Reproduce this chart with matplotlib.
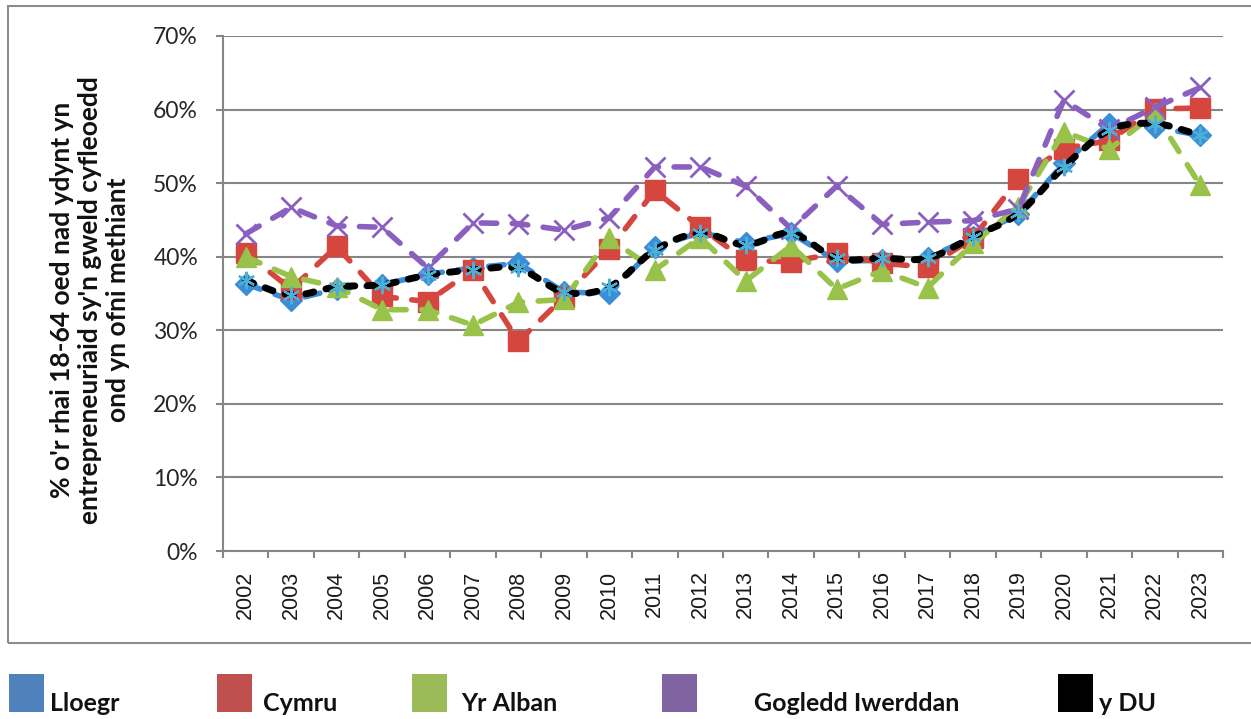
import matplotlib
matplotlib.use("Agg")
import matplotlib.pyplot as plt
import numpy as np
from matplotlib.patches import PathPatch, Rectangle
from matplotlib.path import Path

# values (% of 18-64 year olds)
years = [str(y) for y in range(2002, 2024)]
lloegr = [36.3, 34.1, 35.6, 36.2, 37.6, 38.5, 39.1, 35.2, 35.0, 41.3, 43.3,
          41.9, 43.2, 39.4, 39.5, 39.8, 42.7, 45.8, 52.7, 58.1, 57.6, 56.5]
cymru = [40.5, 35.6, 41.4, 34.6, 33.9, 38.2, 28.5, 34.5, 41.0, 49.0, 44.0,
         39.5, 39.3, 40.5, 39.1, 38.6, 42.5, 50.6, 54.7, 55.8, 60.1, 60.2]
yr_alban = [40.0, 37.3, 35.9, 32.8, 32.8, 30.7, 33.8, 34.2, 42.5, 38.2, 42.6,
            36.7, 41.5, 35.6, 38.1, 35.8, 41.8, 46.8, 57.0, 54.6, 59.5, 49.7]
gogledd_iwerddan = [43.1, 46.7, 44.2, 44.0, 38.5, 44.6, 44.5, 43.6, 45.3, 52.2, 52.2,
                    49.6, 43.8, 49.6, 44.4, 44.7, 44.9, 46.5, 61.3, 57.3, 60.3, 63.0]
y_du = [36.8, 34.8, 35.9, 36.2, 37.5, 38.2, 38.4, 35.2, 35.9, 40.9, 43.2,
        41.6, 43.2, 39.8, 39.8, 39.8, 42.7, 45.9, 52.2, 57.2, 58.1, 56.5]

legend_labels = ["Lloegr", "Cymru", "Yr Alban", "Gogledd Iwerddan", "y DU"]
ytick_values = [0, 10, 20, 30, 40, 50, 60, 70]
ylabel_lines = ["% o'r rhai 18-64 oed nad ydynt yn",
                "entrepreneuriaid sy'n gweld cyfleoedd",
                "ond yn ofni methiant"]

BLUE = "#3b8dd8"
RED = "#d5473e"
GREEN = "#98c24a"
PURPLE = "#8a5fbf"
CYAN = "#4ab0d8"
GRID = "#868686"
LEGEND_COLORS = ["#4f81bd", "#c0504d", "#9bbb59", "#8064a2", "#000000"]

W, H = 1251, 719


def smooth_path(xs, ys):
    # Excel-style smoothed line: cubic bezier through every point
    pts = np.column_stack([xs, ys]).astype(float)
    n = len(pts)
    verts = [pts[0]]
    codes = [Path.MOVETO]
    for i in range(n - 1):
        p0 = pts[max(i - 1, 0)]
        p1 = pts[i]
        p2 = pts[i + 1]
        p3 = pts[min(i + 2, n - 1)]
        verts += [p1 + (p2 - p0) / 6.0, p2 - (p3 - p1) / 6.0, p2]
        codes += [Path.CURVE4] * 3
    return Path(verts, codes)


fig = plt.figure(figsize=(W / 100, H / 100), dpi=100)
fig.patch.set_facecolor("white")

ax = fig.add_axes([223 / W, 1 - 551 / H, 1000 / W, 515 / H])
x = np.arange(len(years))

dash_kw = dict(lw=4.0, dash_capstyle="round", dash_joinstyle="round")
ax.plot(x, lloegr, color=BLUE, ls=(0, (2.8, 2.8)), marker="D", ms=11.5,
        mfc=BLUE, mec=BLUE, zorder=3, **dash_kw)
ax.plot(x, cymru, color=RED, ls=(0, (2.8, 2.8)), marker="s", ms=14,
        mfc=RED, mec=RED, zorder=4, **dash_kw)
ax.plot(x, yr_alban, color=GREEN, ls=(0, (2.8, 2.8)), marker="^", ms=14.5,
        mfc=GREEN, mec=GREEN, zorder=5, **dash_kw)
ax.plot(x, gogledd_iwerddan, color=PURPLE, ls=(0, (2.8, 2.8)), marker="x", ms=14,
        mew=2, zorder=6, **dash_kw)

uk_line = PathPatch(smooth_path(x, y_du), fill=False, edgecolor="black",
                    lw=5.0, ls=(0, (1.2, 1.8)), capstyle="round", zorder=7)
ax.add_patch(uk_line)
ax.plot(x, y_du, ls="none", marker=(6, 2, 0), ms=12.5, mew=1.6,
        mec=CYAN, color=CYAN, zorder=8)

ax.set_xlim(-0.5, len(years) - 0.5)
ax.set_ylim(0, 70)
ax.set_yticks(ytick_values)
ax.set_yticklabels([f"{v}%" for v in ytick_values], family=["Lato", "DejaVu Sans"],
                   fontsize=16.5, color="#262626")
ax.set_xticks(x)
ax.set_xticklabels(years, rotation=90, family=["Liberation Sans", "DejaVu Sans"],
                   fontsize=15.5, color="#1a1a1a")
ax.set_xticks(np.arange(-0.5, len(years)), minor=True)
ax.tick_params(axis="x", which="major", length=0, pad=14)
ax.tick_params(axis="x", which="minor", length=5, width=1.5, color=GRID, direction="out")
ax.tick_params(axis="y", length=5, width=1.5, color=GRID, direction="out", pad=13)

ax.grid(axis="y", color=GRID, lw=1.5, zorder=0)
ax.set_axisbelow(True)
for side in ("top", "right"):
    ax.spines[side].set_visible(False)
for side in ("left", "bottom"):
    ax.spines[side].set_color(GRID)
    ax.spines[side].set_linewidth(1.5)

# y axis title, three centred lines
fig.text(90 / W, 1 - 300 / H, "\n".join(ylabel_lines), rotation=90,
         ha="center", va="center", multialignment="center",
         family=["Lato", "DejaVu Sans"], fontweight="bold", fontsize=19,
         linespacing=1.18, color="#111111")

# chart border
fig.add_artist(Rectangle((8 / W, 1 - 643 / H), 1260 / W, 637 / H,
                         transform=fig.transFigure, fill=False,
                         edgecolor="#8c8c8c", lw=1.5))

# legend below the chart border
sq_x = [9, 217, 412, 662, 1058]
txt_x = [50, 263, 461, 754, 1099]
for lbl, col, sx, tx in zip(legend_labels, LEGEND_COLORS, sq_x, txt_x):
    fig.add_artist(Rectangle((sx / W, 1 - 712 / H), 35 / W, 38 / H,
                             transform=fig.transFigure, facecolor=col,
                             edgecolor="none"))
    fig.text(tx / W, 1 - 711 / H, lbl, ha="left", va="baseline",
             family=["Liberation Sans Narrow", "Lato", "DejaVu Sans"],
             fontweight="bold", fontsize=18, color="#111111")

fig.savefig("out.png", dpi=100)
